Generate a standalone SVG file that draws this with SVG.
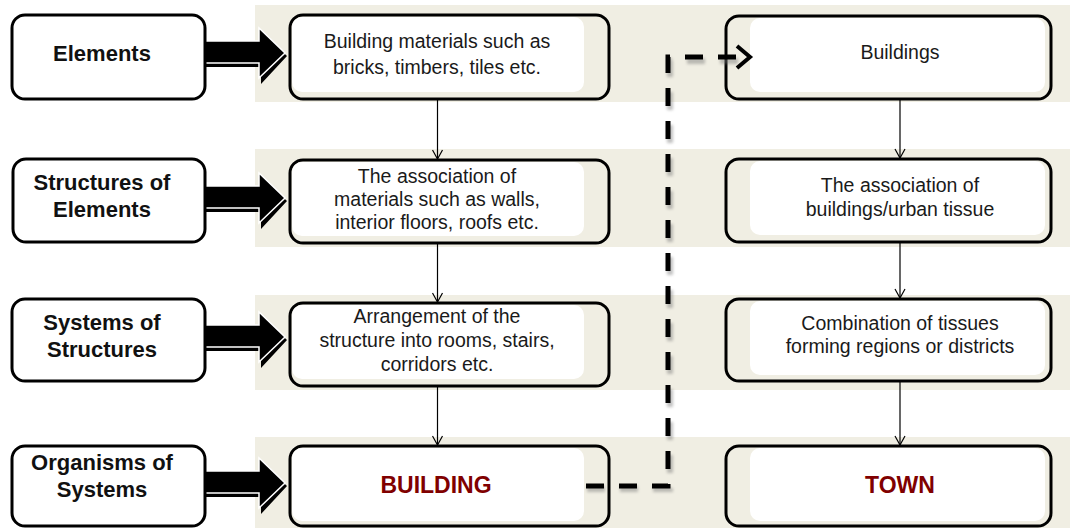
<svg xmlns="http://www.w3.org/2000/svg" width="1070" height="528" viewBox="0 0 1070 528">
  <defs>
    <style>
      .band{fill:#f0eee3}
      .lbox{fill:#fff;stroke:#000;stroke-width:3}
      .box{fill:#f0eee3;stroke:#000;stroke-width:3}
      .inner{fill:#fff}
      .lab{font-family:"Liberation Sans",Arial,sans-serif;font-weight:bold;font-size:22px;fill:#111;text-anchor:middle}
      .txt{font-family:"Liberation Sans",Arial,sans-serif;font-size:19.5px;fill:#1a1a1a;text-anchor:middle}
      .big{font-family:"Liberation Sans",Arial,sans-serif;font-weight:bold;font-size:23px;fill:#800000;text-anchor:middle}
      .flow{stroke:#000;stroke-width:1.2;fill:none;marker-end:url(#vee)}
      .dash{stroke:#000;stroke-width:5;fill:none;stroke-dasharray:18 15}
      .dashhalo{stroke:#777;stroke-width:6;fill:none;stroke-dasharray:18 15;opacity:.45;filter:url(#soft)}
    </style>
    <filter id="soft" x="-10%" y="-10%" width="120%" height="120%">
      <feGaussianBlur stdDeviation="1.6"/>
    </filter>
    <marker id="vee" markerWidth="12" markerHeight="12" refX="10" refY="6" orient="auto" markerUnits="userSpaceOnUse">
      <path d="M1,1 L10,6 L1,11" fill="none" stroke="#000" stroke-width="1.2"/>
    </marker>
    <!-- thick block arrow, origin at the tail's left edge on the tip line -->
    <g id="blockArrow">
      <path d="M0,-9 H56 V-22 L82,3 L56,31 V14 H0 Z" fill="#000"/>
      <path d="M0,-12 H54 V-25 L80,0 L54,25 V10 H0 Z" fill="#000" stroke="#fff" stroke-width="1.5" stroke-linejoin="miter"/>
    </g>
  </defs>

  <rect width="1070" height="528" fill="#fff"/>

  <!-- row bands -->
  <g id="bands">
    <rect class="band" x="255" y="5" width="815" height="97"/>
    <rect class="band" x="255" y="149" width="815" height="98"/>
    <rect class="band" x="255" y="295" width="815" height="95"/>
    <rect class="band" x="255" y="437" width="815" height="91"/>
  </g>

  <!-- connectors -->
  <g id="connectors">
    <line class="flow" x1="437.5" y1="93" x2="437.5" y2="159"/>
    <line class="flow" x1="437.5" y1="236" x2="437.5" y2="302"/>
    <line class="flow" x1="437.5" y1="380" x2="437.5" y2="445"/>
    <line class="flow" x1="900" y1="93" x2="900" y2="158"/>
    <line class="flow" x1="900" y1="236" x2="900" y2="298"/>
    <line class="flow" x1="900" y1="375" x2="900" y2="445"/>

    <use href="#blockArrow" x="205" y="53"/>
    <use href="#blockArrow" x="205" y="198"/>
    <use href="#blockArrow" x="205" y="337"/>
    <use href="#blockArrow" x="205" y="483"/>
  </g>

  <!-- left column: levels -->
  <g id="n-elements">
    <rect class="lbox" x="12" y="15" width="193" height="84" rx="13"/>
    <text class="lab" x="102" y="61">Elements</text>
  </g>
  <g id="n-structures-of-elements">
    <rect class="lbox" x="13" y="159" width="192" height="83" rx="13"/>
    <text class="lab" x="102" y="190">Structures of</text>
    <text class="lab" x="102" y="217">Elements</text>
  </g>
  <g id="n-systems-of-structures">
    <rect class="lbox" x="12" y="299" width="193" height="82" rx="13"/>
    <text class="lab" x="102" y="330">Systems of</text>
    <text class="lab" x="102" y="357">Structures</text>
  </g>
  <g id="n-organisms-of-systems">
    <rect class="lbox" x="12" y="446" width="193" height="80" rx="13"/>
    <text class="lab" x="102" y="470">Organisms of</text>
    <text class="lab" x="102" y="497">Systems</text>
  </g>

  <!-- middle column: building scale -->
  <g id="n-materials">
    <rect class="box" x="290" y="15" width="319" height="84" rx="13"/>
    <rect class="inner" x="292" y="17" width="292" height="75" rx="10"/>
    <text class="txt" x="437" y="48">Building materials such as</text>
    <text class="txt" x="437" y="74">bricks, timbers, tiles etc.</text>
  </g>
  <g id="n-association-materials">
    <rect class="box" x="290" y="160" width="319" height="83" rx="13"/>
    <rect class="inner" x="292" y="162" width="292" height="74" rx="10"/>
    <text class="txt" x="437" y="183">The association of</text>
    <text class="txt" x="437" y="206">materials such as walls,</text>
    <text class="txt" x="437" y="229">interior floors, roofs etc.</text>
  </g>
  <g id="n-arrangement">
    <rect class="box" x="290" y="303" width="319" height="83" rx="13"/>
    <rect class="inner" x="292" y="305" width="292" height="74" rx="10"/>
    <text class="txt" x="437" y="323">Arrangement of the</text>
    <text class="txt" x="437" y="347">structure into rooms, stairs,</text>
    <text class="txt" x="437" y="371">corridors etc.</text>
  </g>
  <g id="n-building">
    <rect class="box" x="290" y="446" width="319" height="80" rx="13"/>
    <rect class="inner" x="292" y="448" width="292" height="73" rx="10"/>
    <text class="big" x="436" y="493">BUILDING</text>
  </g>

  <!-- right column: urban scale -->
  <g id="n-buildings">
    <rect class="box" x="726" y="16" width="325" height="83" rx="13"/>
    <rect class="inner" x="750" y="18" width="295" height="74" rx="10"/>
    <text class="txt" x="900" y="59">Buildings</text>
  </g>
  <g id="n-association-buildings">
    <rect class="box" x="726" y="159" width="325" height="83" rx="13"/>
    <rect class="inner" x="750" y="161" width="295" height="74" rx="10"/>
    <text class="txt" x="900" y="192">The association of</text>
    <text class="txt" x="900" y="216">buildings/urban tissue</text>
  </g>
  <g id="n-combination">
    <rect class="box" x="726" y="299" width="325" height="82" rx="13"/>
    <rect class="inner" x="750" y="301" width="295" height="74" rx="10"/>
    <text class="txt" x="900" y="330">Combination of tissues</text>
    <text class="txt" x="900" y="353">forming regions or districts</text>
  </g>
  <g id="n-town">
    <rect class="box" x="726" y="446" width="325" height="80" rx="13"/>
    <rect class="inner" x="750" y="448" width="295" height="73" rx="10"/>
    <text class="big" x="900" y="493">TOWN</text>
  </g>

  <!-- dashed link from building scale up to urban scale -->
  <g id="link">
    <path class="dashhalo" d="M586,487 H669 V59 H745" transform="translate(1,2)"/>
    <path class="dash" d="M586,486 H668 V57 H744"/>
    <path d="M737,46 L750,57 L737,68" fill="none" stroke="#000" stroke-width="4" stroke-linejoin="miter"/>
  </g>
</svg>
